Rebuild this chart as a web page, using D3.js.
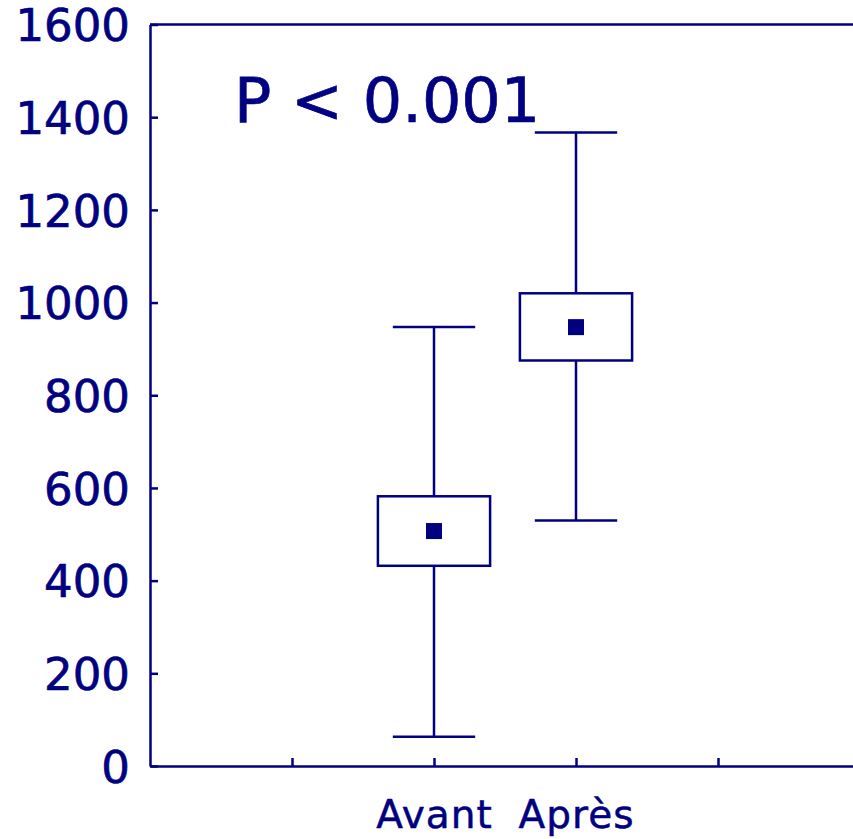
<!DOCTYPE html>
<html>
<head>
<meta charset="utf-8">
<script src="https://cdn.jsdelivr.net/npm/d3@7"></script>
<style>
  html, body { margin: 0; padding: 0; background: #fff; }
  svg { display: block; }
</style>
</head>
<body>
<script>
// Groups and their summary statistics
const groups = ["Avant", "Après"];
const groupPos = [2, 3];
const whiskerLow = [63, 530];
const boxLow = [432, 875];
const center = [507, 947];
const boxHigh = [582, 1020];
const whiskerHigh = [947, 1367];
const yTicks = [0, 200, 400, 600, 800, 1000, 1200, 1400, 1600];
const xTicks = [1, 2, 3, 4];
const annotation = "P < 0.001";

const W = 853, H = 839;
const navy = "#000080";
const font = "DejaVu Sans, Verdana, sans-serif";

const svg = d3.select("body").append("svg")
  .attr("width", W).attr("height", H);

const x = d3.scaleLinear().domain([0, 5]).range([150, 860]);
const y = d3.scaleLinear().domain([0, 1600]).range([766, 24.5]);

// Left axis with inward ticks
const yAxis = svg.append("g")
  .attr("transform", `translate(${x(0)},0)`)
  .call(d3.axisLeft(y).tickValues(yTicks).tickFormat(d3.format("d"))
    .tickSizeInner(-8).tickSizeOuter(0).tickPadding(20));
yAxis.select(".domain").attr("stroke", navy).attr("stroke-width", 2.5);
yAxis.selectAll(".tick line").attr("stroke", navy).attr("stroke-width", 2.5);
yAxis.selectAll(".tick text")
  .attr("fill", navy).attr("stroke", navy).attr("stroke-width", 0.7)
  .attr("font-family", font).attr("font-size", 45)
  .attr("dy", "0.36em");

// Bottom axis with inward ticks
const xAxis = svg.append("g")
  .attr("transform", `translate(0,${y(0)})`)
  .call(d3.axisBottom(x).tickValues(xTicks).tickSizeInner(-8).tickSizeOuter(0)
    .tickFormat(d => { const i = groupPos.indexOf(d); return i >= 0 ? groups[i] : ""; }));
xAxis.select(".domain").attr("stroke", navy).attr("stroke-width", 2.5);
xAxis.selectAll(".tick line").attr("stroke", navy).attr("stroke-width", 2.5);
xAxis.selectAll(".tick text")
  .attr("fill", navy).attr("stroke", navy).attr("stroke-width", 0.5)
  .attr("font-family", font).attr("font-size", 39)
  .attr("letter-spacing", 1)
  .attr("y", 62).attr("dy", 0);

// Top frame line
svg.append("line")
  .attr("x1", x(0)).attr("x2", x(5))
  .attr("y1", y(1600)).attr("y2", y(1600))
  .attr("stroke", navy).attr("stroke-width", 2.5);

const boxHalf = x(0.395) - x(0);
const capHalf = x(0.29) - x(0);
const markHalf = 8;

const data = groups.map((g, i) => ({
  g, p: groupPos[i], lo: whiskerLow[i], q1: boxLow[i], c: center[i], q3: boxHigh[i], hi: whiskerHigh[i]
}));

const grp = svg.append("g").selectAll("g").data(data).join("g");

// whisker stems
grp.append("line")
  .attr("x1", d => x(d.p)).attr("x2", d => x(d.p))
  .attr("y1", d => y(d.hi)).attr("y2", d => y(d.q3))
  .attr("stroke", navy).attr("stroke-width", 2.5);
grp.append("line")
  .attr("x1", d => x(d.p)).attr("x2", d => x(d.p))
  .attr("y1", d => y(d.q1)).attr("y2", d => y(d.lo))
  .attr("stroke", navy).attr("stroke-width", 2.5);
// whisker caps
grp.append("line")
  .attr("x1", d => x(d.p) - capHalf).attr("x2", d => x(d.p) + capHalf)
  .attr("y1", d => y(d.hi)).attr("y2", d => y(d.hi))
  .attr("stroke", navy).attr("stroke-width", 2.5);
grp.append("line")
  .attr("x1", d => x(d.p) - capHalf).attr("x2", d => x(d.p) + capHalf)
  .attr("y1", d => y(d.lo)).attr("y2", d => y(d.lo))
  .attr("stroke", navy).attr("stroke-width", 2.5);
// boxes
grp.append("rect")
  .attr("x", d => x(d.p) - boxHalf).attr("width", 2 * boxHalf)
  .attr("y", d => y(d.q3)).attr("height", d => y(d.q1) - y(d.q3))
  .attr("fill", "#fff").attr("stroke", navy).attr("stroke-width", 2.5);
// central markers
grp.append("rect")
  .attr("x", d => x(d.p) - markHalf).attr("width", 2 * markHalf)
  .attr("y", d => y(d.c) - markHalf).attr("height", 2 * markHalf)
  .attr("fill", navy);

// significance annotation
svg.append("text")
  .attr("x", 234).attr("y", 122)
  .attr("fill", navy).attr("stroke", navy).attr("stroke-width", 0.7)
  .attr("font-family", font).attr("font-size", 62)
  .text(annotation);
</script>
</body>
</html>
